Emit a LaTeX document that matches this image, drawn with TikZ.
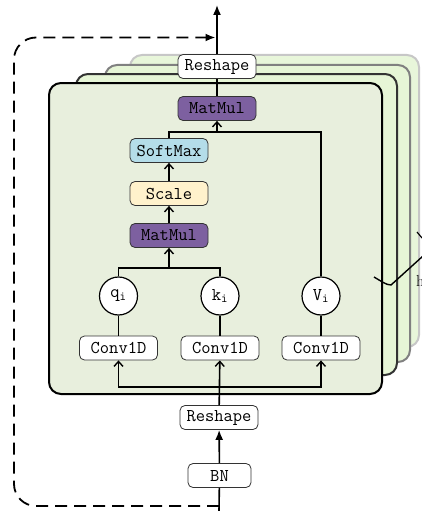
\documentclass[tikz,border=0pt]{standalone}
\usetikzlibrary{arrows.meta}
\definecolor{frontfill}{RGB}{232,239,221}
\definecolor{layerfill}{RGB}{230,245,214}
\definecolor{mmpurple}{RGB}{125,96,160}
\definecolor{smblue}{RGB}{180,221,233}
\definecolor{scyellow}{RGB}{255,242,204}
\tikzset{
  lbl/.style={font=\fontsize{18}{20}\selectfont\ttfamily},
  opbox/.style={lbl, draw=black!80, line width=0.8pt, rounded corners=5pt,
    minimum width=78pt, minimum height=24pt, inner sep=0pt, fill=white},
  headcirc/.style={lbl, draw=black, line width=1.2pt, circle, fill=white,
    minimum size=38pt, inner sep=0pt},
  link/.style={line width=1.6pt},
  arr/.style={link, -{Straight Barb[length=5pt,width=9pt,line width=1.4pt]}},
  bigarr/.style={link, -{Latex[length=10pt,width=8pt]}},
  layer/.style={rounded corners=12pt, line width=2pt},
}
\begin{document}
\begin{tikzpicture}[x=1pt,y=-1pt]
\useasboundingbox (0,0) rectangle (422,511);

% stacked attention heads, back to front
\draw[layer, fill=layerfill!90!white, draw=black!22] (130,55) rectangle (419,347);
\draw[layer, fill=layerfill, draw=black!50] (105,65) rectangle (410,362);
\draw[layer, fill=layerfill, draw=black!80] (76,74) rectangle (397,375);
\draw[layer, fill=frontfill, draw=black] (49,83) rectangle (382,394);

% operations
\node[opbox] (reshapeTop) at (217,66.5) {Reshape};
\node[opbox, fill=mmpurple] (matmulTop) at (217,108.5) {MatMul};
\node[opbox, fill=smblue] (softmax) at (169,150.5) {SoftMax};
\node[opbox, fill=scyellow] (scale) at (169,193.5) {Scale};
\node[opbox, fill=mmpurple] (matmulBot) at (169,235.5) {MatMul};

\node[headcirc] (q) at (118.5,296) {q\textsubscript{i}};
\node[headcirc] (k) at (220,296) {k\textsubscript{i}};
\node[headcirc] (v) at (321,296) {V\textsubscript{i}};

\node[opbox] (conv1) at (118.5,348) {Conv1D};
\node[opbox] (conv2) at (220,348) {Conv1D};
\node[opbox] (conv3) at (321,348) {Conv1D};

\node[opbox] (reshapeBot) at (219,417.5) {Reshape};
\node[opbox, minimum width=63pt] (bn) at (219.5,475.5) {BN};

% junction points
\coordinate (bus) at (220,387);
\coordinate (qk) at (169,268);
\coordinate (sv) at (217,132);
\coordinate (out) at (217,5);
\coordinate (in) at (219,511);
\coordinate (skipStart) at (219,506);
\coordinate (skipEnd) at (215.5,37.5);

% data flow
\draw[link] (in) -- (bn);
\draw[bigarr] (bn) -- (reshapeBot);
\draw[arr] (reshapeBot) -- (conv2);
\draw[arr] (bus) -| (conv1);
\draw[arr] (bus) -| (conv3);
\draw[link] (conv1) -- (q);
\draw[link] (conv2) -- (k);
\draw[link] (conv3) -- (v);
\draw[link] (q) |- (qk) -| (k);
\draw[arr] (qk) -- (matmulBot);
\draw[arr] (matmulBot) -- (scale);
\draw[arr] (scale) -- (softmax);
\draw[link] (softmax) |- (sv) -| (v);
\draw[arr] (sv) -- (matmulTop);
\draw[link] (matmulTop) -- (reshapeTop);
\draw[bigarr] (reshapeTop) -- (out);

% residual connection
\draw[line width=1.8pt, dash pattern=on 12pt off 7pt, rounded corners=22pt,
  -{Latex[length=10pt,width=8pt]}]
  (skipStart) -- (14,506) -- (14,37.5) -- (skipEnd);

% brace over the heads
\draw[line width=1.4pt] (374,277) .. controls (381,281) and (386,285) .. (391,285)
  -- (423,256);
\draw[line width=1.2pt] (417,232) -- (422,238);
\node[anchor=west, inner sep=0pt, font=\fontsize{16}{18}\selectfont] (hlabel) at (416,281) {h};
\end{tikzpicture}
\end{document}
